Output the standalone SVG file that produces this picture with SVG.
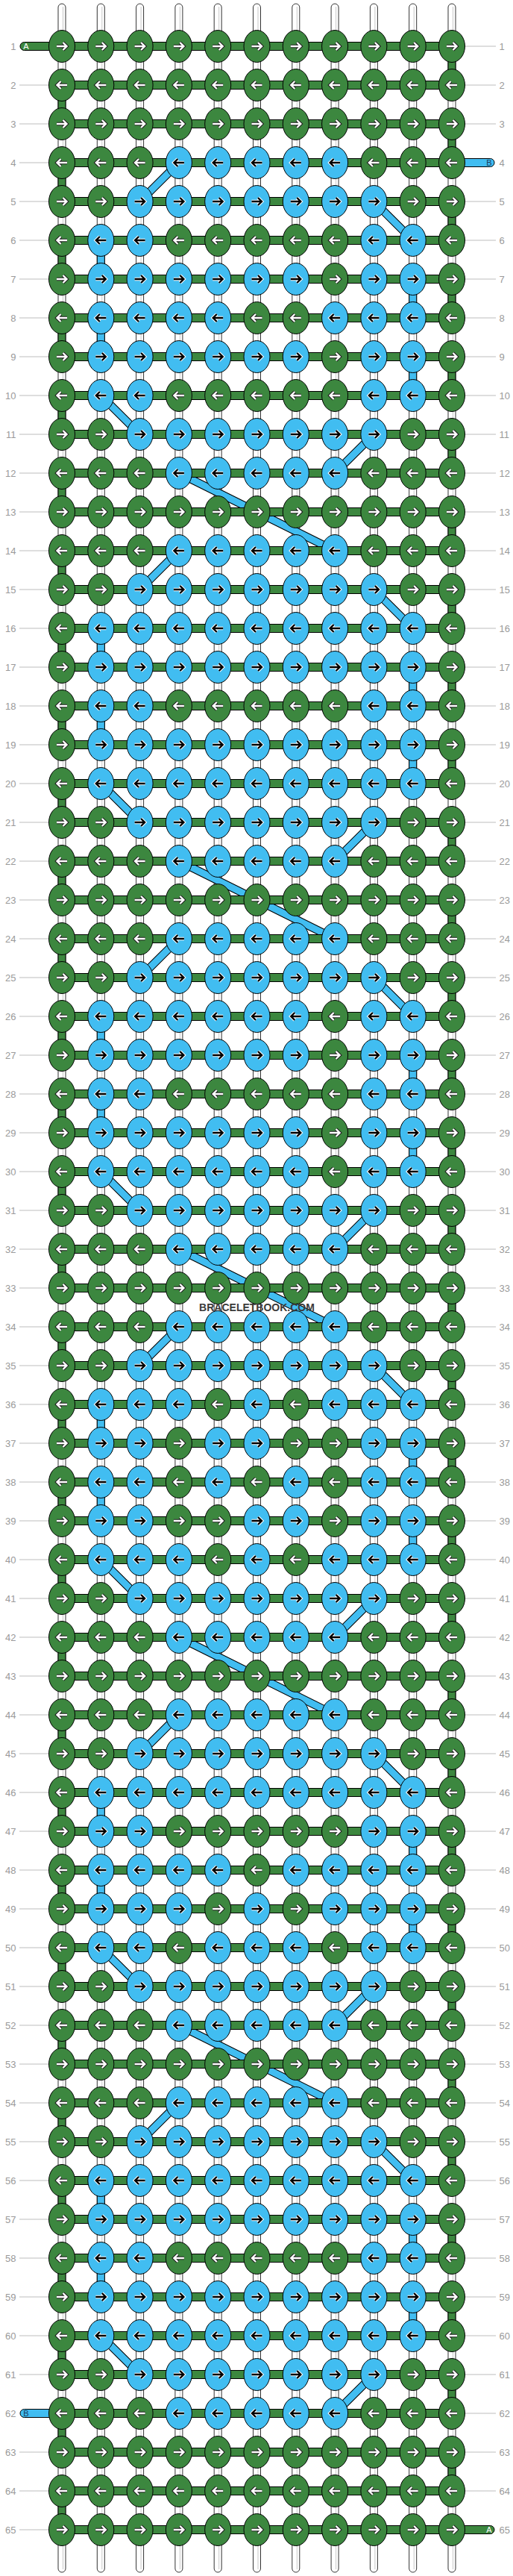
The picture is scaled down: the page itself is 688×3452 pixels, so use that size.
<svg xmlns="http://www.w3.org/2000/svg" width="688" height="3452" viewBox="0 0 688 3452">
<style>
.lbl{font-family:"Liberation Sans",Arial,sans-serif;font-size:13px;fill:#9a9a9a}
.ll{stroke:#bdbdbd;stroke-width:1}
.ws{fill:#fff;stroke:#333;stroke-width:1}
.wl{stroke:#c8c8c8;stroke-width:1}
.gr{fill:#3c873f;stroke:#000;stroke-width:1}
.bl{fill:#41bdf1;stroke:#000;stroke-width:1}
.do{stroke:#000;stroke-width:11}
.di{stroke:#41bdf1;stroke-width:9}
.stub{font-family:"Liberation Sans",Arial,sans-serif;font-size:11px;text-anchor:middle}
.wm{font-family:"Liberation Sans",Arial,sans-serif;font-size:14px;font-weight:bold;fill:#3a3a3a;text-anchor:middle}
</style>
<defs>
<g id="gR"><ellipse rx="17.5" ry="21.5" class="gr"/><path d="M-7,0H5M1.5,-5L6.5,0L1.5,5" fill="none" stroke="#1e1e1e" stroke-width="4.5"/><path d="M-7,0H5M1.5,-5L6.5,0L1.5,5" fill="none" stroke="#fff" stroke-width="2.4"/></g>
<g id="gL"><ellipse rx="17.5" ry="21.5" class="gr"/><path d="M7,0H-5M-1.5,-5L-6.5,0L-1.5,5" fill="none" stroke="#1e1e1e" stroke-width="4.5"/><path d="M7,0H-5M-1.5,-5L-6.5,0L-1.5,5" fill="none" stroke="#fff" stroke-width="2.4"/></g>
<g id="bR"><ellipse rx="17.5" ry="21.5" class="bl"/><path d="M-7,0H5M1.5,-5L6.5,0L1.5,5" fill="none" stroke="#fff" stroke-width="4.5"/><path d="M-7,0H5M1.5,-5L6.5,0L1.5,5" fill="none" stroke="#000" stroke-width="2.4"/></g>
<g id="bL"><ellipse rx="17.5" ry="21.5" class="bl"/><path d="M7,0H-5M-1.5,-5L-6.5,0L-1.5,5" fill="none" stroke="#fff" stroke-width="4.5"/><path d="M7,0H-5M-1.5,-5L-6.5,0L-1.5,5" fill="none" stroke="#000" stroke-width="2.4"/></g>
</defs>
<rect width="688" height="3452" fill="#fff"/>
<g id="labels">
<g class="ll">
<path d="M26,114H83M26,166H83M26,218H83M26,270H83M26,322H83M26,374H83M26,426H83M26,478H83M26,530H83M26,582H83M26,634H83M26,686H83M26,738H83M26,790H83M26,842H83M26,894H83M26,946H83M26,998H83M26,1050H83M26,1102H83M26,1154H83M26,1206H83M26,1258H83M26,1310H83M26,1362H83M26,1414H83M26,1466H83M26,1518H83M26,1570H83M26,1622H83M26,1674H83M26,1726H83M26,1778H83M26,1830H83M26,1882H83M26,1934H83M26,1986H83M26,2038H83M26,2090H83M26,2142H83M26,2194H83M26,2246H83M26,2298H83M26,2350H83M26,2402H83M26,2454H83M26,2506H83M26,2558H83M26,2610H83M26,2662H83M26,2714H83M26,2766H83M26,2818H83M26,2870H83M26,2922H83M26,2974H83M26,3026H83M26,3078H83M26,3130H83M26,3182H83M26,3286H83M26,3338H83M26,3390H83"/>
<path d="M606,62H665M606,114H665M606,166H665M606,270H665M606,322H665M606,374H665M606,426H665M606,478H665M606,530H665M606,582H665M606,634H665M606,686H665M606,738H665M606,790H665M606,842H665M606,894H665M606,946H665M606,998H665M606,1050H665M606,1102H665M606,1154H665M606,1206H665M606,1258H665M606,1310H665M606,1362H665M606,1414H665M606,1466H665M606,1518H665M606,1570H665M606,1622H665M606,1674H665M606,1726H665M606,1778H665M606,1830H665M606,1882H665M606,1934H665M606,1986H665M606,2038H665M606,2090H665M606,2142H665M606,2194H665M606,2246H665M606,2298H665M606,2350H665M606,2402H665M606,2454H665M606,2506H665M606,2558H665M606,2610H665M606,2662H665M606,2714H665M606,2766H665M606,2818H665M606,2870H665M606,2922H665M606,2974H665M606,3026H665M606,3078H665M606,3130H665M606,3182H665M606,3234H665M606,3286H665M606,3338H665"/>
</g>
<g class="lbl" text-anchor="end">
<text x="21.5" y="66.5">1</text><text x="21.5" y="118.5">2</text><text x="21.5" y="170.5">3</text><text x="21.5" y="222.5">4</text><text x="21.5" y="274.5">5</text><text x="21.5" y="326.5">6</text><text x="21.5" y="378.5">7</text><text x="21.5" y="430.5">8</text><text x="21.5" y="482.5">9</text><text x="21.5" y="534.5">10</text><text x="21.5" y="586.5">11</text><text x="21.5" y="638.5">12</text><text x="21.5" y="690.5">13</text><text x="21.5" y="742.5">14</text><text x="21.5" y="794.5">15</text><text x="21.5" y="846.5">16</text><text x="21.5" y="898.5">17</text><text x="21.5" y="950.5">18</text><text x="21.5" y="1002.5">19</text><text x="21.5" y="1054.5">20</text><text x="21.5" y="1106.5">21</text><text x="21.5" y="1158.5">22</text><text x="21.5" y="1210.5">23</text><text x="21.5" y="1262.5">24</text><text x="21.5" y="1314.5">25</text><text x="21.5" y="1366.5">26</text><text x="21.5" y="1418.5">27</text><text x="21.5" y="1470.5">28</text><text x="21.5" y="1522.5">29</text><text x="21.5" y="1574.5">30</text><text x="21.5" y="1626.5">31</text><text x="21.5" y="1678.5">32</text><text x="21.5" y="1730.5">33</text><text x="21.5" y="1782.5">34</text><text x="21.5" y="1834.5">35</text><text x="21.5" y="1886.5">36</text><text x="21.5" y="1938.5">37</text><text x="21.5" y="1990.5">38</text><text x="21.5" y="2042.5">39</text><text x="21.5" y="2094.5">40</text><text x="21.5" y="2146.5">41</text><text x="21.5" y="2198.5">42</text><text x="21.5" y="2250.5">43</text><text x="21.5" y="2302.5">44</text><text x="21.5" y="2354.5">45</text><text x="21.5" y="2406.5">46</text><text x="21.5" y="2458.5">47</text><text x="21.5" y="2510.5">48</text><text x="21.5" y="2562.5">49</text><text x="21.5" y="2614.5">50</text><text x="21.5" y="2666.5">51</text><text x="21.5" y="2718.5">52</text><text x="21.5" y="2770.5">53</text><text x="21.5" y="2822.5">54</text><text x="21.5" y="2874.5">55</text><text x="21.5" y="2926.5">56</text><text x="21.5" y="2978.5">57</text><text x="21.5" y="3030.5">58</text><text x="21.5" y="3082.5">59</text><text x="21.5" y="3134.5">60</text><text x="21.5" y="3186.5">61</text><text x="21.5" y="3238.5">62</text><text x="21.5" y="3290.5">63</text><text x="21.5" y="3342.5">64</text><text x="21.5" y="3394.5">65</text>
</g>
<g class="lbl" text-anchor="start">
<text x="669.5" y="66.5">1</text><text x="669.5" y="118.5">2</text><text x="669.5" y="170.5">3</text><text x="669.5" y="222.5">4</text><text x="669.5" y="274.5">5</text><text x="669.5" y="326.5">6</text><text x="669.5" y="378.5">7</text><text x="669.5" y="430.5">8</text><text x="669.5" y="482.5">9</text><text x="669.5" y="534.5">10</text><text x="669.5" y="586.5">11</text><text x="669.5" y="638.5">12</text><text x="669.5" y="690.5">13</text><text x="669.5" y="742.5">14</text><text x="669.5" y="794.5">15</text><text x="669.5" y="846.5">16</text><text x="669.5" y="898.5">17</text><text x="669.5" y="950.5">18</text><text x="669.5" y="1002.5">19</text><text x="669.5" y="1054.5">20</text><text x="669.5" y="1106.5">21</text><text x="669.5" y="1158.5">22</text><text x="669.5" y="1210.5">23</text><text x="669.5" y="1262.5">24</text><text x="669.5" y="1314.5">25</text><text x="669.5" y="1366.5">26</text><text x="669.5" y="1418.5">27</text><text x="669.5" y="1470.5">28</text><text x="669.5" y="1522.5">29</text><text x="669.5" y="1574.5">30</text><text x="669.5" y="1626.5">31</text><text x="669.5" y="1678.5">32</text><text x="669.5" y="1730.5">33</text><text x="669.5" y="1782.5">34</text><text x="669.5" y="1834.5">35</text><text x="669.5" y="1886.5">36</text><text x="669.5" y="1938.5">37</text><text x="669.5" y="1990.5">38</text><text x="669.5" y="2042.5">39</text><text x="669.5" y="2094.5">40</text><text x="669.5" y="2146.5">41</text><text x="669.5" y="2198.5">42</text><text x="669.5" y="2250.5">43</text><text x="669.5" y="2302.5">44</text><text x="669.5" y="2354.5">45</text><text x="669.5" y="2406.5">46</text><text x="669.5" y="2458.5">47</text><text x="669.5" y="2510.5">48</text><text x="669.5" y="2562.5">49</text><text x="669.5" y="2614.5">50</text><text x="669.5" y="2666.5">51</text><text x="669.5" y="2718.5">52</text><text x="669.5" y="2770.5">53</text><text x="669.5" y="2822.5">54</text><text x="669.5" y="2874.5">55</text><text x="669.5" y="2926.5">56</text><text x="669.5" y="2978.5">57</text><text x="669.5" y="3030.5">58</text><text x="669.5" y="3082.5">59</text><text x="669.5" y="3134.5">60</text><text x="669.5" y="3186.5">61</text><text x="669.5" y="3238.5">62</text><text x="669.5" y="3290.5">63</text><text x="669.5" y="3342.5">64</text><text x="669.5" y="3394.5">65</text>
</g>
</g>
<g id="connectors">
<g id="strings">
<rect class="ws" x="78" y="5" width="10" height="3442" rx="5"/><rect class="ws" x="130.3" y="5" width="10" height="3442" rx="5"/><rect class="ws" x="182.6" y="5" width="10" height="3442" rx="5"/><rect class="ws" x="234.9" y="5" width="10" height="3442" rx="5"/><rect class="ws" x="287.2" y="5" width="10" height="3442" rx="5"/><rect class="ws" x="339.5" y="5" width="10" height="3442" rx="5"/><rect class="ws" x="391.8" y="5" width="10" height="3442" rx="5"/><rect class="ws" x="444.1" y="5" width="10" height="3442" rx="5"/><rect class="ws" x="496.4" y="5" width="10" height="3442" rx="5"/><rect class="ws" x="548.7" y="5" width="10" height="3442" rx="5"/><rect class="ws" x="601" y="5" width="10" height="3442" rx="5"/>
<path class="wl" d="M84.5,9V3443M136.8,9V3443M189.1,9V3443M241.4,9V3443M293.7,9V3443M346,9V3443M398.3,9V3443M450.6,9V3443M502.9,9V3443M555.2,9V3443M607.5,9V3443"/>
</g>
<g id="a-turns" class="gr">
<rect x="601" y="62" width="10" height="52"/><rect x="78" y="114" width="10" height="52"/><rect x="601" y="166" width="10" height="52"/><rect x="78" y="218" width="10" height="52"/><rect x="601" y="270" width="10" height="52"/><rect x="78" y="322" width="10" height="52"/><rect x="601" y="374" width="10" height="52"/><rect x="78" y="426" width="10" height="52"/><rect x="601" y="478" width="10" height="52"/><rect x="78" y="530" width="10" height="52"/><rect x="601" y="582" width="10" height="52"/><rect x="78" y="634" width="10" height="52"/><rect x="601" y="686" width="10" height="52"/><rect x="78" y="738" width="10" height="52"/><rect x="601" y="790" width="10" height="52"/><rect x="78" y="842" width="10" height="52"/><rect x="601" y="894" width="10" height="52"/><rect x="78" y="946" width="10" height="52"/><rect x="601" y="998" width="10" height="52"/><rect x="78" y="1050" width="10" height="52"/><rect x="601" y="1102" width="10" height="52"/><rect x="78" y="1154" width="10" height="52"/><rect x="601" y="1206" width="10" height="52"/><rect x="78" y="1258" width="10" height="52"/><rect x="601" y="1310" width="10" height="52"/><rect x="78" y="1362" width="10" height="52"/><rect x="601" y="1414" width="10" height="52"/><rect x="78" y="1466" width="10" height="52"/><rect x="601" y="1518" width="10" height="52"/><rect x="78" y="1570" width="10" height="52"/><rect x="601" y="1622" width="10" height="52"/><rect x="78" y="1674" width="10" height="52"/><rect x="601" y="1726" width="10" height="52"/><rect x="78" y="1778" width="10" height="52"/><rect x="601" y="1830" width="10" height="52"/><rect x="78" y="1882" width="10" height="52"/><rect x="601" y="1934" width="10" height="52"/><rect x="78" y="1986" width="10" height="52"/><rect x="601" y="2038" width="10" height="52"/><rect x="78" y="2090" width="10" height="52"/><rect x="601" y="2142" width="10" height="52"/><rect x="78" y="2194" width="10" height="52"/><rect x="601" y="2246" width="10" height="52"/><rect x="78" y="2298" width="10" height="52"/><rect x="601" y="2350" width="10" height="52"/><rect x="78" y="2402" width="10" height="52"/><rect x="601" y="2454" width="10" height="52"/><rect x="78" y="2506" width="10" height="52"/><rect x="601" y="2558" width="10" height="52"/><rect x="78" y="2610" width="10" height="52"/><rect x="601" y="2662" width="10" height="52"/><rect x="78" y="2714" width="10" height="52"/><rect x="601" y="2766" width="10" height="52"/><rect x="78" y="2818" width="10" height="52"/><rect x="601" y="2870" width="10" height="52"/><rect x="78" y="2922" width="10" height="52"/><rect x="601" y="2974" width="10" height="52"/><rect x="78" y="3026" width="10" height="52"/><rect x="601" y="3078" width="10" height="52"/><rect x="78" y="3130" width="10" height="52"/><rect x="601" y="3182" width="10" height="52"/><rect x="78" y="3234" width="10" height="52"/><rect x="601" y="3286" width="10" height="52"/><rect x="78" y="3338" width="10" height="52"/>
</g>
<g id="b-turns" class="bl">
<rect x="130.3" y="322" width="10" height="52"/><rect x="548.7" y="374" width="10" height="52"/><rect x="130.3" y="426" width="10" height="52"/><rect x="548.7" y="478" width="10" height="52"/>
<rect x="130.3" y="842" width="10" height="52"/><rect x="548.7" y="894" width="10" height="52"/><rect x="130.3" y="946" width="10" height="52"/><rect x="548.7" y="998" width="10" height="52"/>
<rect x="130.3" y="1362" width="10" height="52"/><rect x="548.7" y="1414" width="10" height="52"/><rect x="130.3" y="1466" width="10" height="52"/><rect x="548.7" y="1518" width="10" height="52"/>
<rect x="130.3" y="1882" width="10" height="52"/><rect x="548.7" y="1934" width="10" height="52"/><rect x="130.3" y="1986" width="10" height="52"/><rect x="548.7" y="2038" width="10" height="52"/>
<rect x="130.3" y="2402" width="10" height="52"/><rect x="548.7" y="2454" width="10" height="52"/><rect x="130.3" y="2506" width="10" height="52"/><rect x="548.7" y="2558" width="10" height="52"/>
<rect x="130.3" y="2922" width="10" height="52"/><rect x="548.7" y="2974" width="10" height="52"/><rect x="130.3" y="3026" width="10" height="52"/><rect x="548.7" y="3078" width="10" height="52"/>
</g>
<g id="b-diagonals" fill="none">
<path class="do" d="M239.9,218L187.6,270M501.4,270L553.7,322M135.3,530L187.6,582M501.4,582L449.1,634M239.9,634L449.1,738M239.9,738L187.6,790M501.4,790L553.7,842M135.3,1050L187.6,1102M501.4,1102L449.1,1154M239.9,1154L449.1,1258M239.9,1258L187.6,1310M501.4,1310L553.7,1362M135.3,1570L187.6,1622M501.4,1622L449.1,1674M239.9,1674L449.1,1778M239.9,1778L187.6,1830M501.4,1830L553.7,1882M135.3,2090L187.6,2142M501.4,2142L449.1,2194M239.9,2194L449.1,2298M239.9,2298L187.6,2350M501.4,2350L553.7,2402M135.3,2610L187.6,2662M501.4,2662L449.1,2714M239.9,2714L449.1,2818M239.9,2818L187.6,2870M501.4,2870L553.7,2922M135.3,3130L187.6,3182M501.4,3182L449.1,3234"/>
<path class="di" d="M239.9,218L187.6,270M501.4,270L553.7,322M135.3,530L187.6,582M501.4,582L449.1,634M239.9,634L449.1,738M239.9,738L187.6,790M501.4,790L553.7,842M135.3,1050L187.6,1102M501.4,1102L449.1,1154M239.9,1154L449.1,1258M239.9,1258L187.6,1310M501.4,1310L553.7,1362M135.3,1570L187.6,1622M501.4,1622L449.1,1674M239.9,1674L449.1,1778M239.9,1778L187.6,1830M501.4,1830L553.7,1882M135.3,2090L187.6,2142M501.4,2142L449.1,2194M239.9,2194L449.1,2298M239.9,2298L187.6,2350M501.4,2350L553.7,2402M135.3,2610L187.6,2662M501.4,2662L449.1,2714M239.9,2714L449.1,2818M239.9,2818L187.6,2870M501.4,2870L553.7,2922M135.3,3130L187.6,3182M501.4,3182L449.1,3234"/>
</g>
<g id="rows-a" class="gr">
<rect x="83" y="56.5" width="523" height="11"/><rect x="83" y="108.5" width="523" height="11"/><rect x="83" y="160.5" width="523" height="11"/><rect x="83" y="212.5" width="523" height="11"/><rect x="83" y="264.5" width="523" height="11"/><rect x="83" y="316.5" width="523" height="11"/><rect x="83" y="368.5" width="523" height="11"/><rect x="83" y="420.5" width="523" height="11"/><rect x="83" y="472.5" width="523" height="11"/><rect x="83" y="524.5" width="523" height="11"/><rect x="83" y="576.5" width="523" height="11"/><rect x="83" y="628.5" width="523" height="11"/><rect x="83" y="680.5" width="523" height="11"/><rect x="83" y="732.5" width="523" height="11"/><rect x="83" y="784.5" width="523" height="11"/><rect x="83" y="836.5" width="523" height="11"/><rect x="83" y="888.5" width="523" height="11"/><rect x="83" y="940.5" width="523" height="11"/><rect x="83" y="992.5" width="523" height="11"/><rect x="83" y="1044.5" width="523" height="11"/><rect x="83" y="1096.5" width="523" height="11"/><rect x="83" y="1148.5" width="523" height="11"/><rect x="83" y="1200.5" width="523" height="11"/><rect x="83" y="1252.5" width="523" height="11"/><rect x="83" y="1304.5" width="523" height="11"/><rect x="83" y="1356.5" width="523" height="11"/><rect x="83" y="1408.5" width="523" height="11"/><rect x="83" y="1460.5" width="523" height="11"/><rect x="83" y="1512.5" width="523" height="11"/><rect x="83" y="1564.5" width="523" height="11"/><rect x="83" y="1616.5" width="523" height="11"/><rect x="83" y="1668.5" width="523" height="11"/><rect x="83" y="1720.5" width="523" height="11"/><rect x="83" y="1772.5" width="523" height="11"/><rect x="83" y="1824.5" width="523" height="11"/><rect x="83" y="1876.5" width="523" height="11"/><rect x="83" y="1928.5" width="523" height="11"/><rect x="83" y="1980.5" width="523" height="11"/><rect x="83" y="2032.5" width="523" height="11"/><rect x="83" y="2084.5" width="523" height="11"/><rect x="83" y="2136.5" width="523" height="11"/><rect x="83" y="2188.5" width="523" height="11"/><rect x="83" y="2240.5" width="523" height="11"/><rect x="83" y="2292.5" width="523" height="11"/><rect x="83" y="2344.5" width="523" height="11"/><rect x="83" y="2396.5" width="523" height="11"/><rect x="83" y="2448.5" width="523" height="11"/><rect x="83" y="2500.5" width="523" height="11"/><rect x="83" y="2552.5" width="523" height="11"/><rect x="83" y="2604.5" width="523" height="11"/><rect x="83" y="2656.5" width="523" height="11"/><rect x="83" y="2708.5" width="523" height="11"/><rect x="83" y="2760.5" width="523" height="11"/><rect x="83" y="2812.5" width="523" height="11"/><rect x="83" y="2864.5" width="523" height="11"/><rect x="83" y="2916.5" width="523" height="11"/><rect x="83" y="2968.5" width="523" height="11"/><rect x="83" y="3020.5" width="523" height="11"/><rect x="83" y="3072.5" width="523" height="11"/><rect x="83" y="3124.5" width="523" height="11"/><rect x="83" y="3176.5" width="523" height="11"/><rect x="83" y="3228.5" width="523" height="11"/><rect x="83" y="3280.5" width="523" height="11"/><rect x="83" y="3332.5" width="523" height="11"/><rect x="83" y="3384.5" width="523" height="11"/>
</g>
<g id="stubs">
<rect class="gr" x="27" y="56.5" width="70" height="11" rx="5.5"/><text class="stub" x="35" y="66" fill="#fff">A</text>
<rect class="bl" x="592" y="212.5" width="71" height="11" rx="5.5"/><text class="stub" x="656" y="222" fill="#1a3a5a">B</text>
<rect class="bl" x="27" y="3228.5" width="70" height="11" rx="5.5"/><text class="stub" x="35" y="3238" fill="#1a3a5a">B</text>
<rect class="gr" x="592" y="3384.5" width="71" height="11" rx="5.5"/><text class="stub" x="656" y="3394" fill="#fff">A</text>
</g>
</g>
<g id="nodes">
<g id="r1" transform="translate(0,62)"><g id="n1-1"><use href="#gR" x="83"/></g><g id="n1-2"><use href="#gR" x="135.3"/></g><g id="n1-3"><use href="#gR" x="187.6"/></g><g id="n1-4"><use href="#gR" x="239.9"/></g><g id="n1-5"><use href="#gR" x="292.2"/></g><g id="n1-6"><use href="#gR" x="344.5"/></g><g id="n1-7"><use href="#gR" x="396.8"/></g><g id="n1-8"><use href="#gR" x="449.1"/></g><g id="n1-9"><use href="#gR" x="501.4"/></g><g id="n1-10"><use href="#gR" x="553.7"/></g><g id="n1-11"><use href="#gR" x="606"/></g></g>
<g id="r2" transform="translate(0,114)"><g id="n2-1"><use href="#gL" x="83"/></g><g id="n2-2"><use href="#gL" x="135.3"/></g><g id="n2-3"><use href="#gL" x="187.6"/></g><g id="n2-4"><use href="#gL" x="239.9"/></g><g id="n2-5"><use href="#gL" x="292.2"/></g><g id="n2-6"><use href="#gL" x="344.5"/></g><g id="n2-7"><use href="#gL" x="396.8"/></g><g id="n2-8"><use href="#gL" x="449.1"/></g><g id="n2-9"><use href="#gL" x="501.4"/></g><g id="n2-10"><use href="#gL" x="553.7"/></g><g id="n2-11"><use href="#gL" x="606"/></g></g>
<g id="r3" transform="translate(0,166)"><g id="n3-1"><use href="#gR" x="83"/></g><g id="n3-2"><use href="#gR" x="135.3"/></g><g id="n3-3"><use href="#gR" x="187.6"/></g><g id="n3-4"><use href="#gR" x="239.9"/></g><g id="n3-5"><use href="#gR" x="292.2"/></g><g id="n3-6"><use href="#gR" x="344.5"/></g><g id="n3-7"><use href="#gR" x="396.8"/></g><g id="n3-8"><use href="#gR" x="449.1"/></g><g id="n3-9"><use href="#gR" x="501.4"/></g><g id="n3-10"><use href="#gR" x="553.7"/></g><g id="n3-11"><use href="#gR" x="606"/></g></g>
<g id="r4" transform="translate(0,218)"><g id="n4-1"><use href="#gL" x="83"/></g><g id="n4-2"><use href="#gL" x="135.3"/></g><g id="n4-3"><use href="#gL" x="187.6"/></g><g id="n4-4"><use href="#bL" x="239.9"/></g><g id="n4-5"><use href="#bL" x="292.2"/></g><g id="n4-6"><use href="#bL" x="344.5"/></g><g id="n4-7"><use href="#bL" x="396.8"/></g><g id="n4-8"><use href="#bL" x="449.1"/></g><g id="n4-9"><use href="#gL" x="501.4"/></g><g id="n4-10"><use href="#gL" x="553.7"/></g><g id="n4-11"><use href="#gL" x="606"/></g></g>
<g id="r5" transform="translate(0,270)"><g id="n5-1"><use href="#gR" x="83"/></g><g id="n5-2"><use href="#gR" x="135.3"/></g><g id="n5-3"><use href="#bR" x="187.6"/></g><g id="n5-4"><use href="#bR" x="239.9"/></g><g id="n5-5"><use href="#bR" x="292.2"/></g><g id="n5-6"><use href="#bR" x="344.5"/></g><g id="n5-7"><use href="#bR" x="396.8"/></g><g id="n5-8"><use href="#bR" x="449.1"/></g><g id="n5-9"><use href="#bR" x="501.4"/></g><g id="n5-10"><use href="#gR" x="553.7"/></g><g id="n5-11"><use href="#gR" x="606"/></g></g>
<g id="r6" transform="translate(0,322)"><g id="n6-1"><use href="#gL" x="83"/></g><g id="n6-2"><use href="#bL" x="135.3"/></g><g id="n6-3"><use href="#bL" x="187.6"/></g><g id="n6-4"><use href="#gL" x="239.9"/></g><g id="n6-5"><use href="#gL" x="292.2"/></g><g id="n6-6"><use href="#gL" x="344.5"/></g><g id="n6-7"><use href="#gL" x="396.8"/></g><g id="n6-8"><use href="#gL" x="449.1"/></g><g id="n6-9"><use href="#bL" x="501.4"/></g><g id="n6-10"><use href="#bL" x="553.7"/></g><g id="n6-11"><use href="#gL" x="606"/></g></g>
<g id="r7" transform="translate(0,374)"><g id="n7-1"><use href="#gR" x="83"/></g><g id="n7-2"><use href="#bR" x="135.3"/></g><g id="n7-3"><use href="#bR" x="187.6"/></g><g id="n7-4"><use href="#bR" x="239.9"/></g><g id="n7-5"><use href="#bR" x="292.2"/></g><g id="n7-6"><use href="#bR" x="344.5"/></g><g id="n7-7"><use href="#bR" x="396.8"/></g><g id="n7-8"><use href="#gR" x="449.1"/></g><g id="n7-9"><use href="#bR" x="501.4"/></g><g id="n7-10"><use href="#bR" x="553.7"/></g><g id="n7-11"><use href="#gR" x="606"/></g></g>
<g id="r8" transform="translate(0,426)"><g id="n8-1"><use href="#gL" x="83"/></g><g id="n8-2"><use href="#bL" x="135.3"/></g><g id="n8-3"><use href="#bL" x="187.6"/></g><g id="n8-4"><use href="#bL" x="239.9"/></g><g id="n8-5"><use href="#bL" x="292.2"/></g><g id="n8-6"><use href="#gL" x="344.5"/></g><g id="n8-7"><use href="#gL" x="396.8"/></g><g id="n8-8"><use href="#bL" x="449.1"/></g><g id="n8-9"><use href="#bL" x="501.4"/></g><g id="n8-10"><use href="#bL" x="553.7"/></g><g id="n8-11"><use href="#gL" x="606"/></g></g>
<g id="r9" transform="translate(0,478)"><g id="n9-1"><use href="#gR" x="83"/></g><g id="n9-2"><use href="#bR" x="135.3"/></g><g id="n9-3"><use href="#bR" x="187.6"/></g><g id="n9-4"><use href="#bR" x="239.9"/></g><g id="n9-5"><use href="#bR" x="292.2"/></g><g id="n9-6"><use href="#bR" x="344.5"/></g><g id="n9-7"><use href="#bR" x="396.8"/></g><g id="n9-8"><use href="#gR" x="449.1"/></g><g id="n9-9"><use href="#bR" x="501.4"/></g><g id="n9-10"><use href="#bR" x="553.7"/></g><g id="n9-11"><use href="#gR" x="606"/></g></g>
<g id="r10" transform="translate(0,530)"><g id="n10-1"><use href="#gL" x="83"/></g><g id="n10-2"><use href="#bL" x="135.3"/></g><g id="n10-3"><use href="#bL" x="187.6"/></g><g id="n10-4"><use href="#gL" x="239.9"/></g><g id="n10-5"><use href="#gL" x="292.2"/></g><g id="n10-6"><use href="#gL" x="344.5"/></g><g id="n10-7"><use href="#gL" x="396.8"/></g><g id="n10-8"><use href="#gL" x="449.1"/></g><g id="n10-9"><use href="#bL" x="501.4"/></g><g id="n10-10"><use href="#bL" x="553.7"/></g><g id="n10-11"><use href="#gL" x="606"/></g></g>
<g id="r11" transform="translate(0,582)"><g id="n11-1"><use href="#gR" x="83"/></g><g id="n11-2"><use href="#gR" x="135.3"/></g><g id="n11-3"><use href="#bR" x="187.6"/></g><g id="n11-4"><use href="#bR" x="239.9"/></g><g id="n11-5"><use href="#bR" x="292.2"/></g><g id="n11-6"><use href="#bR" x="344.5"/></g><g id="n11-7"><use href="#bR" x="396.8"/></g><g id="n11-8"><use href="#bR" x="449.1"/></g><g id="n11-9"><use href="#bR" x="501.4"/></g><g id="n11-10"><use href="#gR" x="553.7"/></g><g id="n11-11"><use href="#gR" x="606"/></g></g>
<g id="r12" transform="translate(0,634)"><g id="n12-1"><use href="#gL" x="83"/></g><g id="n12-2"><use href="#gL" x="135.3"/></g><g id="n12-3"><use href="#gL" x="187.6"/></g><g id="n12-4"><use href="#bL" x="239.9"/></g><g id="n12-5"><use href="#bL" x="292.2"/></g><g id="n12-6"><use href="#bL" x="344.5"/></g><g id="n12-7"><use href="#bL" x="396.8"/></g><g id="n12-8"><use href="#bL" x="449.1"/></g><g id="n12-9"><use href="#gL" x="501.4"/></g><g id="n12-10"><use href="#gL" x="553.7"/></g><g id="n12-11"><use href="#gL" x="606"/></g></g>
<g id="r13" transform="translate(0,686)"><g id="n13-1"><use href="#gR" x="83"/></g><g id="n13-2"><use href="#gR" x="135.3"/></g><g id="n13-3"><use href="#gR" x="187.6"/></g><g id="n13-4"><use href="#gR" x="239.9"/></g><g id="n13-5"><use href="#gR" x="292.2"/></g><g id="n13-6"><use href="#gR" x="344.5"/></g><g id="n13-7"><use href="#gR" x="396.8"/></g><g id="n13-8"><use href="#gR" x="449.1"/></g><g id="n13-9"><use href="#gR" x="501.4"/></g><g id="n13-10"><use href="#gR" x="553.7"/></g><g id="n13-11"><use href="#gR" x="606"/></g></g>
<g id="r14" transform="translate(0,738)"><g id="n14-1"><use href="#gL" x="83"/></g><g id="n14-2"><use href="#gL" x="135.3"/></g><g id="n14-3"><use href="#gL" x="187.6"/></g><g id="n14-4"><use href="#bL" x="239.9"/></g><g id="n14-5"><use href="#bL" x="292.2"/></g><g id="n14-6"><use href="#bL" x="344.5"/></g><g id="n14-7"><use href="#bL" x="396.8"/></g><g id="n14-8"><use href="#bL" x="449.1"/></g><g id="n14-9"><use href="#gL" x="501.4"/></g><g id="n14-10"><use href="#gL" x="553.7"/></g><g id="n14-11"><use href="#gL" x="606"/></g></g>
<g id="r15" transform="translate(0,790)"><g id="n15-1"><use href="#gR" x="83"/></g><g id="n15-2"><use href="#gR" x="135.3"/></g><g id="n15-3"><use href="#bR" x="187.6"/></g><g id="n15-4"><use href="#bR" x="239.9"/></g><g id="n15-5"><use href="#bR" x="292.2"/></g><g id="n15-6"><use href="#bR" x="344.5"/></g><g id="n15-7"><use href="#bR" x="396.8"/></g><g id="n15-8"><use href="#bR" x="449.1"/></g><g id="n15-9"><use href="#bR" x="501.4"/></g><g id="n15-10"><use href="#gR" x="553.7"/></g><g id="n15-11"><use href="#gR" x="606"/></g></g>
<g id="r16" transform="translate(0,842)"><g id="n16-1"><use href="#gL" x="83"/></g><g id="n16-2"><use href="#bL" x="135.3"/></g><g id="n16-3"><use href="#bL" x="187.6"/></g><g id="n16-4"><use href="#bL" x="239.9"/></g><g id="n16-5"><use href="#bL" x="292.2"/></g><g id="n16-6"><use href="#bL" x="344.5"/></g><g id="n16-7"><use href="#bL" x="396.8"/></g><g id="n16-8"><use href="#bL" x="449.1"/></g><g id="n16-9"><use href="#bL" x="501.4"/></g><g id="n16-10"><use href="#bL" x="553.7"/></g><g id="n16-11"><use href="#gL" x="606"/></g></g>
<g id="r17" transform="translate(0,894)"><g id="n17-1"><use href="#gR" x="83"/></g><g id="n17-2"><use href="#bR" x="135.3"/></g><g id="n17-3"><use href="#bR" x="187.6"/></g><g id="n17-4"><use href="#bR" x="239.9"/></g><g id="n17-5"><use href="#bR" x="292.2"/></g><g id="n17-6"><use href="#bR" x="344.5"/></g><g id="n17-7"><use href="#bR" x="396.8"/></g><g id="n17-8"><use href="#bR" x="449.1"/></g><g id="n17-9"><use href="#bR" x="501.4"/></g><g id="n17-10"><use href="#bR" x="553.7"/></g><g id="n17-11"><use href="#gR" x="606"/></g></g>
<g id="r18" transform="translate(0,946)"><g id="n18-1"><use href="#gL" x="83"/></g><g id="n18-2"><use href="#bL" x="135.3"/></g><g id="n18-3"><use href="#bL" x="187.6"/></g><g id="n18-4"><use href="#gL" x="239.9"/></g><g id="n18-5"><use href="#gL" x="292.2"/></g><g id="n18-6"><use href="#gL" x="344.5"/></g><g id="n18-7"><use href="#gL" x="396.8"/></g><g id="n18-8"><use href="#gL" x="449.1"/></g><g id="n18-9"><use href="#bL" x="501.4"/></g><g id="n18-10"><use href="#bL" x="553.7"/></g><g id="n18-11"><use href="#gL" x="606"/></g></g>
<g id="r19" transform="translate(0,998)"><g id="n19-1"><use href="#gR" x="83"/></g><g id="n19-2"><use href="#bR" x="135.3"/></g><g id="n19-3"><use href="#bR" x="187.6"/></g><g id="n19-4"><use href="#bR" x="239.9"/></g><g id="n19-5"><use href="#bR" x="292.2"/></g><g id="n19-6"><use href="#bR" x="344.5"/></g><g id="n19-7"><use href="#bR" x="396.8"/></g><g id="n19-8"><use href="#bR" x="449.1"/></g><g id="n19-9"><use href="#bR" x="501.4"/></g><g id="n19-10"><use href="#bR" x="553.7"/></g><g id="n19-11"><use href="#gR" x="606"/></g></g>
<g id="r20" transform="translate(0,1050)"><g id="n20-1"><use href="#gL" x="83"/></g><g id="n20-2"><use href="#bL" x="135.3"/></g><g id="n20-3"><use href="#bL" x="187.6"/></g><g id="n20-4"><use href="#bL" x="239.9"/></g><g id="n20-5"><use href="#bL" x="292.2"/></g><g id="n20-6"><use href="#bL" x="344.5"/></g><g id="n20-7"><use href="#bL" x="396.8"/></g><g id="n20-8"><use href="#bL" x="449.1"/></g><g id="n20-9"><use href="#bL" x="501.4"/></g><g id="n20-10"><use href="#bL" x="553.7"/></g><g id="n20-11"><use href="#gL" x="606"/></g></g>
<g id="r21" transform="translate(0,1102)"><g id="n21-1"><use href="#gR" x="83"/></g><g id="n21-2"><use href="#gR" x="135.3"/></g><g id="n21-3"><use href="#bR" x="187.6"/></g><g id="n21-4"><use href="#bR" x="239.9"/></g><g id="n21-5"><use href="#bR" x="292.2"/></g><g id="n21-6"><use href="#bR" x="344.5"/></g><g id="n21-7"><use href="#bR" x="396.8"/></g><g id="n21-8"><use href="#bR" x="449.1"/></g><g id="n21-9"><use href="#bR" x="501.4"/></g><g id="n21-10"><use href="#gR" x="553.7"/></g><g id="n21-11"><use href="#gR" x="606"/></g></g>
<g id="r22" transform="translate(0,1154)"><g id="n22-1"><use href="#gL" x="83"/></g><g id="n22-2"><use href="#gL" x="135.3"/></g><g id="n22-3"><use href="#gL" x="187.6"/></g><g id="n22-4"><use href="#bL" x="239.9"/></g><g id="n22-5"><use href="#bL" x="292.2"/></g><g id="n22-6"><use href="#bL" x="344.5"/></g><g id="n22-7"><use href="#bL" x="396.8"/></g><g id="n22-8"><use href="#bL" x="449.1"/></g><g id="n22-9"><use href="#gL" x="501.4"/></g><g id="n22-10"><use href="#gL" x="553.7"/></g><g id="n22-11"><use href="#gL" x="606"/></g></g>
<g id="r23" transform="translate(0,1206)"><g id="n23-1"><use href="#gR" x="83"/></g><g id="n23-2"><use href="#gR" x="135.3"/></g><g id="n23-3"><use href="#gR" x="187.6"/></g><g id="n23-4"><use href="#gR" x="239.9"/></g><g id="n23-5"><use href="#gR" x="292.2"/></g><g id="n23-6"><use href="#gR" x="344.5"/></g><g id="n23-7"><use href="#gR" x="396.8"/></g><g id="n23-8"><use href="#gR" x="449.1"/></g><g id="n23-9"><use href="#gR" x="501.4"/></g><g id="n23-10"><use href="#gR" x="553.7"/></g><g id="n23-11"><use href="#gR" x="606"/></g></g>
<g id="r24" transform="translate(0,1258)"><g id="n24-1"><use href="#gL" x="83"/></g><g id="n24-2"><use href="#gL" x="135.3"/></g><g id="n24-3"><use href="#gL" x="187.6"/></g><g id="n24-4"><use href="#bL" x="239.9"/></g><g id="n24-5"><use href="#bL" x="292.2"/></g><g id="n24-6"><use href="#bL" x="344.5"/></g><g id="n24-7"><use href="#bL" x="396.8"/></g><g id="n24-8"><use href="#bL" x="449.1"/></g><g id="n24-9"><use href="#gL" x="501.4"/></g><g id="n24-10"><use href="#gL" x="553.7"/></g><g id="n24-11"><use href="#gL" x="606"/></g></g>
<g id="r25" transform="translate(0,1310)"><g id="n25-1"><use href="#gR" x="83"/></g><g id="n25-2"><use href="#gR" x="135.3"/></g><g id="n25-3"><use href="#bR" x="187.6"/></g><g id="n25-4"><use href="#bR" x="239.9"/></g><g id="n25-5"><use href="#bR" x="292.2"/></g><g id="n25-6"><use href="#bR" x="344.5"/></g><g id="n25-7"><use href="#bR" x="396.8"/></g><g id="n25-8"><use href="#bR" x="449.1"/></g><g id="n25-9"><use href="#bR" x="501.4"/></g><g id="n25-10"><use href="#gR" x="553.7"/></g><g id="n25-11"><use href="#gR" x="606"/></g></g>
<g id="r26" transform="translate(0,1362)"><g id="n26-1"><use href="#gL" x="83"/></g><g id="n26-2"><use href="#bL" x="135.3"/></g><g id="n26-3"><use href="#bL" x="187.6"/></g><g id="n26-4"><use href="#bL" x="239.9"/></g><g id="n26-5"><use href="#bL" x="292.2"/></g><g id="n26-6"><use href="#bL" x="344.5"/></g><g id="n26-7"><use href="#bL" x="396.8"/></g><g id="n26-8"><use href="#gL" x="449.1"/></g><g id="n26-9"><use href="#bL" x="501.4"/></g><g id="n26-10"><use href="#bL" x="553.7"/></g><g id="n26-11"><use href="#gL" x="606"/></g></g>
<g id="r27" transform="translate(0,1414)"><g id="n27-1"><use href="#gR" x="83"/></g><g id="n27-2"><use href="#bR" x="135.3"/></g><g id="n27-3"><use href="#bR" x="187.6"/></g><g id="n27-4"><use href="#bR" x="239.9"/></g><g id="n27-5"><use href="#bR" x="292.2"/></g><g id="n27-6"><use href="#bR" x="344.5"/></g><g id="n27-7"><use href="#bR" x="396.8"/></g><g id="n27-8"><use href="#gR" x="449.1"/></g><g id="n27-9"><use href="#bR" x="501.4"/></g><g id="n27-10"><use href="#bR" x="553.7"/></g><g id="n27-11"><use href="#gR" x="606"/></g></g>
<g id="r28" transform="translate(0,1466)"><g id="n28-1"><use href="#gL" x="83"/></g><g id="n28-2"><use href="#bL" x="135.3"/></g><g id="n28-3"><use href="#bL" x="187.6"/></g><g id="n28-4"><use href="#gL" x="239.9"/></g><g id="n28-5"><use href="#gL" x="292.2"/></g><g id="n28-6"><use href="#gL" x="344.5"/></g><g id="n28-7"><use href="#gL" x="396.8"/></g><g id="n28-8"><use href="#gL" x="449.1"/></g><g id="n28-9"><use href="#bL" x="501.4"/></g><g id="n28-10"><use href="#bL" x="553.7"/></g><g id="n28-11"><use href="#gL" x="606"/></g></g>
<g id="r29" transform="translate(0,1518)"><g id="n29-1"><use href="#gR" x="83"/></g><g id="n29-2"><use href="#bR" x="135.3"/></g><g id="n29-3"><use href="#bR" x="187.6"/></g><g id="n29-4"><use href="#bR" x="239.9"/></g><g id="n29-5"><use href="#bR" x="292.2"/></g><g id="n29-6"><use href="#bR" x="344.5"/></g><g id="n29-7"><use href="#bR" x="396.8"/></g><g id="n29-8"><use href="#gR" x="449.1"/></g><g id="n29-9"><use href="#bR" x="501.4"/></g><g id="n29-10"><use href="#bR" x="553.7"/></g><g id="n29-11"><use href="#gR" x="606"/></g></g>
<g id="r30" transform="translate(0,1570)"><g id="n30-1"><use href="#gL" x="83"/></g><g id="n30-2"><use href="#bL" x="135.3"/></g><g id="n30-3"><use href="#bL" x="187.6"/></g><g id="n30-4"><use href="#bL" x="239.9"/></g><g id="n30-5"><use href="#bL" x="292.2"/></g><g id="n30-6"><use href="#bL" x="344.5"/></g><g id="n30-7"><use href="#bL" x="396.8"/></g><g id="n30-8"><use href="#gL" x="449.1"/></g><g id="n30-9"><use href="#bL" x="501.4"/></g><g id="n30-10"><use href="#bL" x="553.7"/></g><g id="n30-11"><use href="#gL" x="606"/></g></g>
<g id="r31" transform="translate(0,1622)"><g id="n31-1"><use href="#gR" x="83"/></g><g id="n31-2"><use href="#gR" x="135.3"/></g><g id="n31-3"><use href="#bR" x="187.6"/></g><g id="n31-4"><use href="#bR" x="239.9"/></g><g id="n31-5"><use href="#bR" x="292.2"/></g><g id="n31-6"><use href="#bR" x="344.5"/></g><g id="n31-7"><use href="#bR" x="396.8"/></g><g id="n31-8"><use href="#bR" x="449.1"/></g><g id="n31-9"><use href="#bR" x="501.4"/></g><g id="n31-10"><use href="#gR" x="553.7"/></g><g id="n31-11"><use href="#gR" x="606"/></g></g>
<g id="r32" transform="translate(0,1674)"><g id="n32-1"><use href="#gL" x="83"/></g><g id="n32-2"><use href="#gL" x="135.3"/></g><g id="n32-3"><use href="#gL" x="187.6"/></g><g id="n32-4"><use href="#bL" x="239.9"/></g><g id="n32-5"><use href="#bL" x="292.2"/></g><g id="n32-6"><use href="#bL" x="344.5"/></g><g id="n32-7"><use href="#bL" x="396.8"/></g><g id="n32-8"><use href="#bL" x="449.1"/></g><g id="n32-9"><use href="#gL" x="501.4"/></g><g id="n32-10"><use href="#gL" x="553.7"/></g><g id="n32-11"><use href="#gL" x="606"/></g></g>
<g id="r33" transform="translate(0,1726)"><g id="n33-1"><use href="#gR" x="83"/></g><g id="n33-2"><use href="#gR" x="135.3"/></g><g id="n33-3"><use href="#gR" x="187.6"/></g><g id="n33-4"><use href="#gR" x="239.9"/></g><g id="n33-5"><use href="#gR" x="292.2"/></g><g id="n33-6"><use href="#gR" x="344.5"/></g><g id="n33-7"><use href="#gR" x="396.8"/></g><g id="n33-8"><use href="#gR" x="449.1"/></g><g id="n33-9"><use href="#gR" x="501.4"/></g><g id="n33-10"><use href="#gR" x="553.7"/></g><g id="n33-11"><use href="#gR" x="606"/></g></g>
<g id="r34" transform="translate(0,1778)"><g id="n34-1"><use href="#gL" x="83"/></g><g id="n34-2"><use href="#gL" x="135.3"/></g><g id="n34-3"><use href="#gL" x="187.6"/></g><g id="n34-4"><use href="#bL" x="239.9"/></g><g id="n34-5"><use href="#bL" x="292.2"/></g><g id="n34-6"><use href="#bL" x="344.5"/></g><g id="n34-7"><use href="#bL" x="396.8"/></g><g id="n34-8"><use href="#bL" x="449.1"/></g><g id="n34-9"><use href="#gL" x="501.4"/></g><g id="n34-10"><use href="#gL" x="553.7"/></g><g id="n34-11"><use href="#gL" x="606"/></g></g>
<g id="r35" transform="translate(0,1830)"><g id="n35-1"><use href="#gR" x="83"/></g><g id="n35-2"><use href="#gR" x="135.3"/></g><g id="n35-3"><use href="#bR" x="187.6"/></g><g id="n35-4"><use href="#bR" x="239.9"/></g><g id="n35-5"><use href="#bR" x="292.2"/></g><g id="n35-6"><use href="#bR" x="344.5"/></g><g id="n35-7"><use href="#bR" x="396.8"/></g><g id="n35-8"><use href="#bR" x="449.1"/></g><g id="n35-9"><use href="#bR" x="501.4"/></g><g id="n35-10"><use href="#gR" x="553.7"/></g><g id="n35-11"><use href="#gR" x="606"/></g></g>
<g id="r36" transform="translate(0,1882)"><g id="n36-1"><use href="#gL" x="83"/></g><g id="n36-2"><use href="#bL" x="135.3"/></g><g id="n36-3"><use href="#bL" x="187.6"/></g><g id="n36-4"><use href="#bL" x="239.9"/></g><g id="n36-5"><use href="#gL" x="292.2"/></g><g id="n36-6"><use href="#bL" x="344.5"/></g><g id="n36-7"><use href="#gL" x="396.8"/></g><g id="n36-8"><use href="#bL" x="449.1"/></g><g id="n36-9"><use href="#bL" x="501.4"/></g><g id="n36-10"><use href="#bL" x="553.7"/></g><g id="n36-11"><use href="#gL" x="606"/></g></g>
<g id="r37" transform="translate(0,1934)"><g id="n37-1"><use href="#gR" x="83"/></g><g id="n37-2"><use href="#bR" x="135.3"/></g><g id="n37-3"><use href="#bR" x="187.6"/></g><g id="n37-4"><use href="#gR" x="239.9"/></g><g id="n37-5"><use href="#bR" x="292.2"/></g><g id="n37-6"><use href="#bR" x="344.5"/></g><g id="n37-7"><use href="#gR" x="396.8"/></g><g id="n37-8"><use href="#gR" x="449.1"/></g><g id="n37-9"><use href="#bR" x="501.4"/></g><g id="n37-10"><use href="#bR" x="553.7"/></g><g id="n37-11"><use href="#gR" x="606"/></g></g>
<g id="r38" transform="translate(0,1986)"><g id="n38-1"><use href="#gL" x="83"/></g><g id="n38-2"><use href="#bL" x="135.3"/></g><g id="n38-3"><use href="#bL" x="187.6"/></g><g id="n38-4"><use href="#gL" x="239.9"/></g><g id="n38-5"><use href="#bL" x="292.2"/></g><g id="n38-6"><use href="#gL" x="344.5"/></g><g id="n38-7"><use href="#bL" x="396.8"/></g><g id="n38-8"><use href="#gL" x="449.1"/></g><g id="n38-9"><use href="#bL" x="501.4"/></g><g id="n38-10"><use href="#bL" x="553.7"/></g><g id="n38-11"><use href="#gL" x="606"/></g></g>
<g id="r39" transform="translate(0,2038)"><g id="n39-1"><use href="#gR" x="83"/></g><g id="n39-2"><use href="#bR" x="135.3"/></g><g id="n39-3"><use href="#bR" x="187.6"/></g><g id="n39-4"><use href="#gR" x="239.9"/></g><g id="n39-5"><use href="#gR" x="292.2"/></g><g id="n39-6"><use href="#bR" x="344.5"/></g><g id="n39-7"><use href="#bR" x="396.8"/></g><g id="n39-8"><use href="#gR" x="449.1"/></g><g id="n39-9"><use href="#bR" x="501.4"/></g><g id="n39-10"><use href="#bR" x="553.7"/></g><g id="n39-11"><use href="#gR" x="606"/></g></g>
<g id="r40" transform="translate(0,2090)"><g id="n40-1"><use href="#gL" x="83"/></g><g id="n40-2"><use href="#bL" x="135.3"/></g><g id="n40-3"><use href="#bL" x="187.6"/></g><g id="n40-4"><use href="#bL" x="239.9"/></g><g id="n40-5"><use href="#gL" x="292.2"/></g><g id="n40-6"><use href="#bL" x="344.5"/></g><g id="n40-7"><use href="#gL" x="396.8"/></g><g id="n40-8"><use href="#bL" x="449.1"/></g><g id="n40-9"><use href="#bL" x="501.4"/></g><g id="n40-10"><use href="#bL" x="553.7"/></g><g id="n40-11"><use href="#gL" x="606"/></g></g>
<g id="r41" transform="translate(0,2142)"><g id="n41-1"><use href="#gR" x="83"/></g><g id="n41-2"><use href="#gR" x="135.3"/></g><g id="n41-3"><use href="#bR" x="187.6"/></g><g id="n41-4"><use href="#bR" x="239.9"/></g><g id="n41-5"><use href="#bR" x="292.2"/></g><g id="n41-6"><use href="#bR" x="344.5"/></g><g id="n41-7"><use href="#bR" x="396.8"/></g><g id="n41-8"><use href="#bR" x="449.1"/></g><g id="n41-9"><use href="#bR" x="501.4"/></g><g id="n41-10"><use href="#gR" x="553.7"/></g><g id="n41-11"><use href="#gR" x="606"/></g></g>
<g id="r42" transform="translate(0,2194)"><g id="n42-1"><use href="#gL" x="83"/></g><g id="n42-2"><use href="#gL" x="135.3"/></g><g id="n42-3"><use href="#gL" x="187.6"/></g><g id="n42-4"><use href="#bL" x="239.9"/></g><g id="n42-5"><use href="#bL" x="292.2"/></g><g id="n42-6"><use href="#bL" x="344.5"/></g><g id="n42-7"><use href="#bL" x="396.8"/></g><g id="n42-8"><use href="#bL" x="449.1"/></g><g id="n42-9"><use href="#gL" x="501.4"/></g><g id="n42-10"><use href="#gL" x="553.7"/></g><g id="n42-11"><use href="#gL" x="606"/></g></g>
<g id="r43" transform="translate(0,2246)"><g id="n43-1"><use href="#gR" x="83"/></g><g id="n43-2"><use href="#gR" x="135.3"/></g><g id="n43-3"><use href="#gR" x="187.6"/></g><g id="n43-4"><use href="#gR" x="239.9"/></g><g id="n43-5"><use href="#gR" x="292.2"/></g><g id="n43-6"><use href="#gR" x="344.5"/></g><g id="n43-7"><use href="#gR" x="396.8"/></g><g id="n43-8"><use href="#gR" x="449.1"/></g><g id="n43-9"><use href="#gR" x="501.4"/></g><g id="n43-10"><use href="#gR" x="553.7"/></g><g id="n43-11"><use href="#gR" x="606"/></g></g>
<g id="r44" transform="translate(0,2298)"><g id="n44-1"><use href="#gL" x="83"/></g><g id="n44-2"><use href="#gL" x="135.3"/></g><g id="n44-3"><use href="#gL" x="187.6"/></g><g id="n44-4"><use href="#bL" x="239.9"/></g><g id="n44-5"><use href="#bL" x="292.2"/></g><g id="n44-6"><use href="#bL" x="344.5"/></g><g id="n44-7"><use href="#bL" x="396.8"/></g><g id="n44-8"><use href="#bL" x="449.1"/></g><g id="n44-9"><use href="#gL" x="501.4"/></g><g id="n44-10"><use href="#gL" x="553.7"/></g><g id="n44-11"><use href="#gL" x="606"/></g></g>
<g id="r45" transform="translate(0,2350)"><g id="n45-1"><use href="#gR" x="83"/></g><g id="n45-2"><use href="#gR" x="135.3"/></g><g id="n45-3"><use href="#bR" x="187.6"/></g><g id="n45-4"><use href="#bR" x="239.9"/></g><g id="n45-5"><use href="#bR" x="292.2"/></g><g id="n45-6"><use href="#bR" x="344.5"/></g><g id="n45-7"><use href="#bR" x="396.8"/></g><g id="n45-8"><use href="#bR" x="449.1"/></g><g id="n45-9"><use href="#bR" x="501.4"/></g><g id="n45-10"><use href="#gR" x="553.7"/></g><g id="n45-11"><use href="#gR" x="606"/></g></g>
<g id="r46" transform="translate(0,2402)"><g id="n46-1"><use href="#gL" x="83"/></g><g id="n46-2"><use href="#bL" x="135.3"/></g><g id="n46-3"><use href="#bL" x="187.6"/></g><g id="n46-4"><use href="#bL" x="239.9"/></g><g id="n46-5"><use href="#bL" x="292.2"/></g><g id="n46-6"><use href="#bL" x="344.5"/></g><g id="n46-7"><use href="#bL" x="396.8"/></g><g id="n46-8"><use href="#bL" x="449.1"/></g><g id="n46-9"><use href="#bL" x="501.4"/></g><g id="n46-10"><use href="#bL" x="553.7"/></g><g id="n46-11"><use href="#gL" x="606"/></g></g>
<g id="r47" transform="translate(0,2454)"><g id="n47-1"><use href="#gR" x="83"/></g><g id="n47-2"><use href="#bR" x="135.3"/></g><g id="n47-3"><use href="#bR" x="187.6"/></g><g id="n47-4"><use href="#gR" x="239.9"/></g><g id="n47-5"><use href="#gR" x="292.2"/></g><g id="n47-6"><use href="#gR" x="344.5"/></g><g id="n47-7"><use href="#gR" x="396.8"/></g><g id="n47-8"><use href="#gR" x="449.1"/></g><g id="n47-9"><use href="#bR" x="501.4"/></g><g id="n47-10"><use href="#bR" x="553.7"/></g><g id="n47-11"><use href="#gR" x="606"/></g></g>
<g id="r48" transform="translate(0,2506)"><g id="n48-1"><use href="#gL" x="83"/></g><g id="n48-2"><use href="#bL" x="135.3"/></g><g id="n48-3"><use href="#bL" x="187.6"/></g><g id="n48-4"><use href="#bL" x="239.9"/></g><g id="n48-5"><use href="#bL" x="292.2"/></g><g id="n48-6"><use href="#gL" x="344.5"/></g><g id="n48-7"><use href="#bL" x="396.8"/></g><g id="n48-8"><use href="#bL" x="449.1"/></g><g id="n48-9"><use href="#bL" x="501.4"/></g><g id="n48-10"><use href="#bL" x="553.7"/></g><g id="n48-11"><use href="#gL" x="606"/></g></g>
<g id="r49" transform="translate(0,2558)"><g id="n49-1"><use href="#gR" x="83"/></g><g id="n49-2"><use href="#bR" x="135.3"/></g><g id="n49-3"><use href="#bR" x="187.6"/></g><g id="n49-4"><use href="#bR" x="239.9"/></g><g id="n49-5"><use href="#gR" x="292.2"/></g><g id="n49-6"><use href="#bR" x="344.5"/></g><g id="n49-7"><use href="#gR" x="396.8"/></g><g id="n49-8"><use href="#bR" x="449.1"/></g><g id="n49-9"><use href="#bR" x="501.4"/></g><g id="n49-10"><use href="#bR" x="553.7"/></g><g id="n49-11"><use href="#gR" x="606"/></g></g>
<g id="r50" transform="translate(0,2610)"><g id="n50-1"><use href="#gL" x="83"/></g><g id="n50-2"><use href="#bL" x="135.3"/></g><g id="n50-3"><use href="#bL" x="187.6"/></g><g id="n50-4"><use href="#gL" x="239.9"/></g><g id="n50-5"><use href="#bL" x="292.2"/></g><g id="n50-6"><use href="#bL" x="344.5"/></g><g id="n50-7"><use href="#bL" x="396.8"/></g><g id="n50-8"><use href="#gL" x="449.1"/></g><g id="n50-9"><use href="#bL" x="501.4"/></g><g id="n50-10"><use href="#bL" x="553.7"/></g><g id="n50-11"><use href="#gL" x="606"/></g></g>
<g id="r51" transform="translate(0,2662)"><g id="n51-1"><use href="#gR" x="83"/></g><g id="n51-2"><use href="#gR" x="135.3"/></g><g id="n51-3"><use href="#bR" x="187.6"/></g><g id="n51-4"><use href="#bR" x="239.9"/></g><g id="n51-5"><use href="#bR" x="292.2"/></g><g id="n51-6"><use href="#bR" x="344.5"/></g><g id="n51-7"><use href="#bR" x="396.8"/></g><g id="n51-8"><use href="#bR" x="449.1"/></g><g id="n51-9"><use href="#bR" x="501.4"/></g><g id="n51-10"><use href="#gR" x="553.7"/></g><g id="n51-11"><use href="#gR" x="606"/></g></g>
<g id="r52" transform="translate(0,2714)"><g id="n52-1"><use href="#gL" x="83"/></g><g id="n52-2"><use href="#gL" x="135.3"/></g><g id="n52-3"><use href="#gL" x="187.6"/></g><g id="n52-4"><use href="#bL" x="239.9"/></g><g id="n52-5"><use href="#bL" x="292.2"/></g><g id="n52-6"><use href="#bL" x="344.5"/></g><g id="n52-7"><use href="#bL" x="396.8"/></g><g id="n52-8"><use href="#bL" x="449.1"/></g><g id="n52-9"><use href="#gL" x="501.4"/></g><g id="n52-10"><use href="#gL" x="553.7"/></g><g id="n52-11"><use href="#gL" x="606"/></g></g>
<g id="r53" transform="translate(0,2766)"><g id="n53-1"><use href="#gR" x="83"/></g><g id="n53-2"><use href="#gR" x="135.3"/></g><g id="n53-3"><use href="#gR" x="187.6"/></g><g id="n53-4"><use href="#gR" x="239.9"/></g><g id="n53-5"><use href="#gR" x="292.2"/></g><g id="n53-6"><use href="#gR" x="344.5"/></g><g id="n53-7"><use href="#gR" x="396.8"/></g><g id="n53-8"><use href="#gR" x="449.1"/></g><g id="n53-9"><use href="#gR" x="501.4"/></g><g id="n53-10"><use href="#gR" x="553.7"/></g><g id="n53-11"><use href="#gR" x="606"/></g></g>
<g id="r54" transform="translate(0,2818)"><g id="n54-1"><use href="#gL" x="83"/></g><g id="n54-2"><use href="#gL" x="135.3"/></g><g id="n54-3"><use href="#gL" x="187.6"/></g><g id="n54-4"><use href="#bL" x="239.9"/></g><g id="n54-5"><use href="#bL" x="292.2"/></g><g id="n54-6"><use href="#bL" x="344.5"/></g><g id="n54-7"><use href="#bL" x="396.8"/></g><g id="n54-8"><use href="#bL" x="449.1"/></g><g id="n54-9"><use href="#gL" x="501.4"/></g><g id="n54-10"><use href="#gL" x="553.7"/></g><g id="n54-11"><use href="#gL" x="606"/></g></g>
<g id="r55" transform="translate(0,2870)"><g id="n55-1"><use href="#gR" x="83"/></g><g id="n55-2"><use href="#gR" x="135.3"/></g><g id="n55-3"><use href="#bR" x="187.6"/></g><g id="n55-4"><use href="#bR" x="239.9"/></g><g id="n55-5"><use href="#bR" x="292.2"/></g><g id="n55-6"><use href="#bR" x="344.5"/></g><g id="n55-7"><use href="#bR" x="396.8"/></g><g id="n55-8"><use href="#bR" x="449.1"/></g><g id="n55-9"><use href="#bR" x="501.4"/></g><g id="n55-10"><use href="#gR" x="553.7"/></g><g id="n55-11"><use href="#gR" x="606"/></g></g>
<g id="r56" transform="translate(0,2922)"><g id="n56-1"><use href="#gL" x="83"/></g><g id="n56-2"><use href="#bL" x="135.3"/></g><g id="n56-3"><use href="#bL" x="187.6"/></g><g id="n56-4"><use href="#bL" x="239.9"/></g><g id="n56-5"><use href="#bL" x="292.2"/></g><g id="n56-6"><use href="#bL" x="344.5"/></g><g id="n56-7"><use href="#bL" x="396.8"/></g><g id="n56-8"><use href="#bL" x="449.1"/></g><g id="n56-9"><use href="#bL" x="501.4"/></g><g id="n56-10"><use href="#bL" x="553.7"/></g><g id="n56-11"><use href="#gL" x="606"/></g></g>
<g id="r57" transform="translate(0,2974)"><g id="n57-1"><use href="#gR" x="83"/></g><g id="n57-2"><use href="#bR" x="135.3"/></g><g id="n57-3"><use href="#bR" x="187.6"/></g><g id="n57-4"><use href="#bR" x="239.9"/></g><g id="n57-5"><use href="#bR" x="292.2"/></g><g id="n57-6"><use href="#bR" x="344.5"/></g><g id="n57-7"><use href="#bR" x="396.8"/></g><g id="n57-8"><use href="#bR" x="449.1"/></g><g id="n57-9"><use href="#bR" x="501.4"/></g><g id="n57-10"><use href="#bR" x="553.7"/></g><g id="n57-11"><use href="#gR" x="606"/></g></g>
<g id="r58" transform="translate(0,3026)"><g id="n58-1"><use href="#gL" x="83"/></g><g id="n58-2"><use href="#bL" x="135.3"/></g><g id="n58-3"><use href="#bL" x="187.6"/></g><g id="n58-4"><use href="#gL" x="239.9"/></g><g id="n58-5"><use href="#gL" x="292.2"/></g><g id="n58-6"><use href="#gL" x="344.5"/></g><g id="n58-7"><use href="#gL" x="396.8"/></g><g id="n58-8"><use href="#gL" x="449.1"/></g><g id="n58-9"><use href="#bL" x="501.4"/></g><g id="n58-10"><use href="#bL" x="553.7"/></g><g id="n58-11"><use href="#gL" x="606"/></g></g>
<g id="r59" transform="translate(0,3078)"><g id="n59-1"><use href="#gR" x="83"/></g><g id="n59-2"><use href="#bR" x="135.3"/></g><g id="n59-3"><use href="#bR" x="187.6"/></g><g id="n59-4"><use href="#bR" x="239.9"/></g><g id="n59-5"><use href="#bR" x="292.2"/></g><g id="n59-6"><use href="#bR" x="344.5"/></g><g id="n59-7"><use href="#bR" x="396.8"/></g><g id="n59-8"><use href="#bR" x="449.1"/></g><g id="n59-9"><use href="#bR" x="501.4"/></g><g id="n59-10"><use href="#bR" x="553.7"/></g><g id="n59-11"><use href="#gR" x="606"/></g></g>
<g id="r60" transform="translate(0,3130)"><g id="n60-1"><use href="#gL" x="83"/></g><g id="n60-2"><use href="#bL" x="135.3"/></g><g id="n60-3"><use href="#bL" x="187.6"/></g><g id="n60-4"><use href="#bL" x="239.9"/></g><g id="n60-5"><use href="#bL" x="292.2"/></g><g id="n60-6"><use href="#bL" x="344.5"/></g><g id="n60-7"><use href="#bL" x="396.8"/></g><g id="n60-8"><use href="#bL" x="449.1"/></g><g id="n60-9"><use href="#bL" x="501.4"/></g><g id="n60-10"><use href="#bL" x="553.7"/></g><g id="n60-11"><use href="#gL" x="606"/></g></g>
<g id="r61" transform="translate(0,3182)"><g id="n61-1"><use href="#gR" x="83"/></g><g id="n61-2"><use href="#gR" x="135.3"/></g><g id="n61-3"><use href="#bR" x="187.6"/></g><g id="n61-4"><use href="#bR" x="239.9"/></g><g id="n61-5"><use href="#bR" x="292.2"/></g><g id="n61-6"><use href="#bR" x="344.5"/></g><g id="n61-7"><use href="#bR" x="396.8"/></g><g id="n61-8"><use href="#bR" x="449.1"/></g><g id="n61-9"><use href="#bR" x="501.4"/></g><g id="n61-10"><use href="#gR" x="553.7"/></g><g id="n61-11"><use href="#gR" x="606"/></g></g>
<g id="r62" transform="translate(0,3234)"><g id="n62-1"><use href="#gL" x="83"/></g><g id="n62-2"><use href="#gL" x="135.3"/></g><g id="n62-3"><use href="#gL" x="187.6"/></g><g id="n62-4"><use href="#bL" x="239.9"/></g><g id="n62-5"><use href="#bL" x="292.2"/></g><g id="n62-6"><use href="#bL" x="344.5"/></g><g id="n62-7"><use href="#bL" x="396.8"/></g><g id="n62-8"><use href="#bL" x="449.1"/></g><g id="n62-9"><use href="#gL" x="501.4"/></g><g id="n62-10"><use href="#gL" x="553.7"/></g><g id="n62-11"><use href="#gL" x="606"/></g></g>
<g id="r63" transform="translate(0,3286)"><g id="n63-1"><use href="#gR" x="83"/></g><g id="n63-2"><use href="#gR" x="135.3"/></g><g id="n63-3"><use href="#gR" x="187.6"/></g><g id="n63-4"><use href="#gR" x="239.9"/></g><g id="n63-5"><use href="#gR" x="292.2"/></g><g id="n63-6"><use href="#gR" x="344.5"/></g><g id="n63-7"><use href="#gR" x="396.8"/></g><g id="n63-8"><use href="#gR" x="449.1"/></g><g id="n63-9"><use href="#gR" x="501.4"/></g><g id="n63-10"><use href="#gR" x="553.7"/></g><g id="n63-11"><use href="#gR" x="606"/></g></g>
<g id="r64" transform="translate(0,3338)"><g id="n64-1"><use href="#gL" x="83"/></g><g id="n64-2"><use href="#gL" x="135.3"/></g><g id="n64-3"><use href="#gL" x="187.6"/></g><g id="n64-4"><use href="#gL" x="239.9"/></g><g id="n64-5"><use href="#gL" x="292.2"/></g><g id="n64-6"><use href="#gL" x="344.5"/></g><g id="n64-7"><use href="#gL" x="396.8"/></g><g id="n64-8"><use href="#gL" x="449.1"/></g><g id="n64-9"><use href="#gL" x="501.4"/></g><g id="n64-10"><use href="#gL" x="553.7"/></g><g id="n64-11"><use href="#gL" x="606"/></g></g>
<g id="r65" transform="translate(0,3390)"><g id="n65-1"><use href="#gR" x="83"/></g><g id="n65-2"><use href="#gR" x="135.3"/></g><g id="n65-3"><use href="#gR" x="187.6"/></g><g id="n65-4"><use href="#gR" x="239.9"/></g><g id="n65-5"><use href="#gR" x="292.2"/></g><g id="n65-6"><use href="#gR" x="344.5"/></g><g id="n65-7"><use href="#gR" x="396.8"/></g><g id="n65-8"><use href="#gR" x="449.1"/></g><g id="n65-9"><use href="#gR" x="501.4"/></g><g id="n65-10"><use href="#gR" x="553.7"/></g><g id="n65-11"><use href="#gR" x="606"/></g></g>
</g>
<g id="watermark"><text class="wm" x="344.5" y="1757">BRACELETBOOK.COM</text></g>
</svg>
